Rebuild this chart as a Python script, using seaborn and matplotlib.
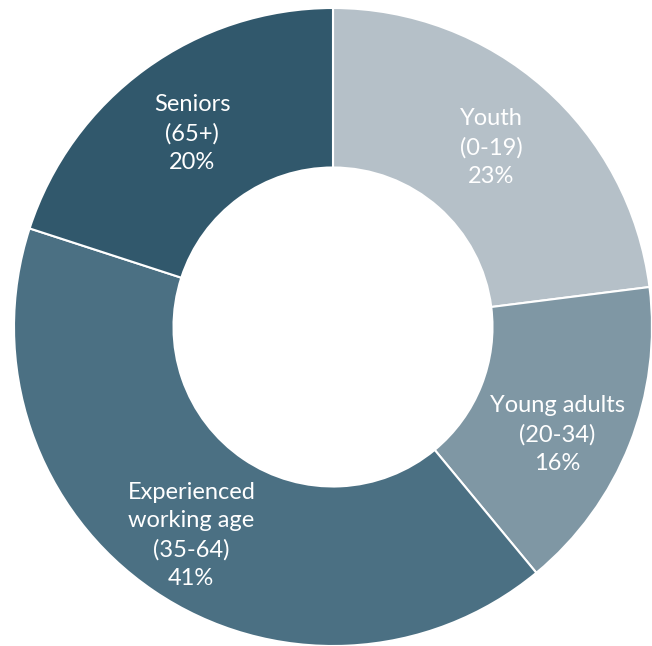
import numpy as np
import matplotlib
matplotlib.use("Agg")
import matplotlib.pyplot as plt
import seaborn as sns

# Population shares by age group
groups = ["Youth", "Young adults", "Experienced\nworking age", "Seniors"]
ranges = ["(0-19)", "(20-34)", "(35-64)", "(65+)"]
shares = [23, 16, 41, 20]
colors = ["#B5C0C8", "#7F97A4", "#4B7083", "#31586C"]

sns.set_theme(style="white")
plt.rcParams["font.family"] = ["Lato", "DejaVu Sans"]

fig = plt.figure(figsize=(6.52, 6.46), dpi=100)
ax = fig.add_axes([0, 0, 1, 1])

wedges, _ = ax.pie(
    shares,
    colors=colors,
    startangle=90,
    counterclock=False,
    radius=1.0,
    wedgeprops=dict(width=0.5, edgecolor="white", linewidth=1.5),
)

# label placement: fraction of radius and angular nudge (degrees)
label_r = [0.75, 0.78, 0.79, 0.75]
label_nudge = [0, -4, 0, 0]
for w, g, rg, s, r, dn in zip(wedges, groups, ranges, shares, label_r, label_nudge):
    mid = np.deg2rad((w.theta1 + w.theta2) / 2 + dn)
    ax.text(r * np.cos(mid), r * np.sin(mid), f"{g}\n{rg}\n{s}%",
            ha="center", va="center", color="white", fontsize=17,
            linespacing=1.45)

ax.set_xlim(-333 / 319, 319 / 319)
ax.set_ylim(-319 / 319, 327 / 319)
ax.set_aspect("equal")
ax.axis("off")

fig.savefig("out.png", dpi=100)
